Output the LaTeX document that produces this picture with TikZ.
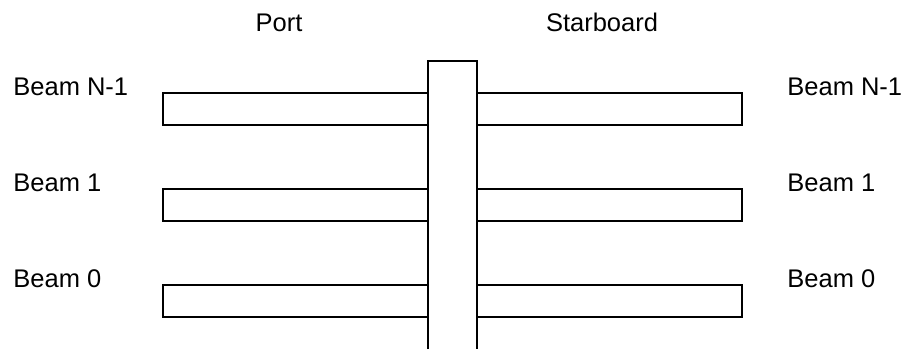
\documentclass[tikz,border=0pt]{standalone}
\usepackage{fontspec}
\setmainfont{Liberation Sans}
\usetikzlibrary{positioning}

\begin{document}
\begin{tikzpicture}[
    x=0.5pt, y=-0.5pt,
    % Styles
    member/.style={draw, line width=1pt, line join=miter},
    side/.style={font=\fontsize{12.75}{15}\selectfont, anchor=base, inner sep=0pt},
    beamlabel/.style={font=\fontsize{12.75}{15}\selectfont, anchor=base west, inner sep=0pt}
  ]
    \useasboundingbox (0,0) rectangle (904,349);

    % --- Side headings ---
    \node (port) [side] at (279,31) {Port};
    \node (starboard) [side] at (602,31) {Starboard};

    % --- Central post, open at the bottom ---
    \coordinate (postSW) at (428,349);
    \coordinate (postNW) at (428,61);
    \coordinate (postNE) at (477,61);
    \coordinate (postSE) at (477,349);
    \draw[member] (postSW) -- (postNW) -- (postNE) -- (postSE);

    % --- Beams on both sides ---
    \foreach \idx/\name/\top in {a/N-1/93, b/1/189, c/0/285} {
        \draw[member] (428,\top) -- (163,\top) -- (163,\top+32) -- (428,\top+32);
        \draw[member] (477,\top) -- (742,\top) -- (742,\top+32) -- (477,\top+32);
        \node (portlabel\idx) [beamlabel] at (13,\top+2) {Beam \name};
        \node (stbdlabel\idx) [beamlabel] at (787,\top+2) {Beam \name};
    }

  \end{tikzpicture}
\end{document}
